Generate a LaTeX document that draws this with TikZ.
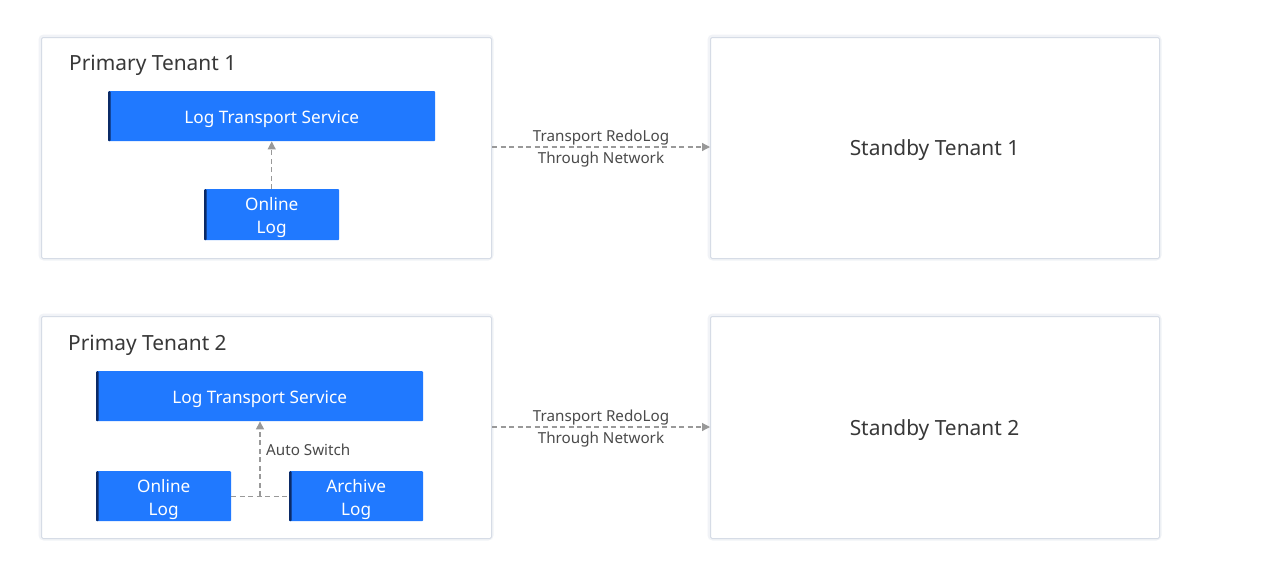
\documentclass[tikz,border=0pt]{standalone}
\usepackage{fontspec}
\setmainfont{Noto Sans}
\usetikzlibrary{arrows.meta}
\definecolor{bblue}{HTML}{2079FF}
\definecolor{bedge}{HTML}{0B2A66}
\definecolor{tgray}{HTML}{383838}
\definecolor{lgray}{HTML}{4A4A4A}
\definecolor{framec}{HTML}{D6DCE6}
\definecolor{shadowc}{HTML}{F1F3F7}
\definecolor{dgray}{HTML}{999999}
\tikzset{
  tenant/.style={draw=framec, line width=1pt, fill=white, inner sep=0pt, rounded corners=1.5pt},
  bluebox/.style={fill=bblue, draw=none, text=white, inner sep=0pt, align=center,
    font=\fontsize{17.2}{23}\selectfont, text height=19pt, rounded corners=1pt,
    path picture={\fill[bedge] (path picture bounding box.south west) rectangle ([xshift=2.5pt]path picture bounding box.north west);}},
  twoline/.style={bluebox, text height=42pt},
  title/.style={text=tgray, font=\fontsize{20.9}{24}\selectfont, inner sep=0pt},
  lbl/.style={text=lgray, font=\fontsize{15.2}{22}\selectfont, inner sep=0pt, align=center},
  dashline/.style={draw=dgray, line width=1.2pt, dash pattern=on 5pt off 3.5pt},
  dasharrow/.style={dashline, -{Triangle[length=8pt,width=8pt]}},
}
\begin{document}
\begin{tikzpicture}[x=1pt,y=-1pt]
\useasboundingbox[fill=white] (0,0) rectangle (1280,581);
% soft shadows
\foreach \x/\y/\w/\h in {41/37/450/221,710/37/449/221,41/316/450/222,710/316/449/222}{
  \draw[draw=shadowc, line width=5pt, rounded corners=3pt] (\x,\y) rectangle ++(\w,\h);
}
% tenant frames
\node[tenant, minimum width=450pt, minimum height=221pt, anchor=north west] (p1) at (41,37) {};
\node[tenant, minimum width=449pt, minimum height=221pt, anchor=north west] (s1) at (710,37) {};
\node[tenant, minimum width=450pt, minimum height=222pt, anchor=north west] (p2) at (41,316) {};
\node[tenant, minimum width=449pt, minimum height=222pt, anchor=north west] (s2) at (710,316) {};
% titles
\node[title, anchor=west] (t1) at (69,65) {Primary Tenant 1};
\node[title, anchor=west] (t2) at (68,345) {Primay Tenant 2};
\node[title] (st1) at (934.5,150) {Standby Tenant 1};
\node[title] (st2) at (934.5,430.5) {Standby Tenant 2};
% tenant 1 inner
\node[bluebox, minimum width=327pt, minimum height=50pt, anchor=north west] (lts1) at (108,91) {Log Transport Service};
\node[twoline, minimum width=135pt, minimum height=51pt, anchor=north west] (ol1) at (204,189) {Online\\Log};
\draw[dasharrow] (ol1.north) -- (lts1.south -| ol1.north);
% tenant 2 inner
\node[bluebox, minimum width=327pt, minimum height=50pt, anchor=north west] (lts2) at (96,371) {Log Transport Service};
\node[twoline, minimum width=135pt, minimum height=50pt, anchor=north west] (ol2) at (96,471) {Online\\Log};
\node[twoline, minimum width=134pt, minimum height=50pt, anchor=north west] (al2) at (289,471) {Archive\\Log};
\coordinate (j2) at (260,496);
\draw[dashline] (ol2.east) -- (al2.west);
\draw[dasharrow] (j2) -- (lts2.south -| j2);
\node[lbl, anchor=west] (as) at (266,449.5) {Auto Switch};
% transport arrows
\draw[dasharrow] (p1.east |- 0,147) -- (s1.west |- 0,147);
\node[lbl] (tr1a) at (601,137.5) {Transport RedoLog};
\node[lbl] (tr1b) at (601,159.5) {Through Network};
\draw[dasharrow] (p2.east |- 0,427) -- (s2.west |- 0,427);
\node[lbl] (tr2a) at (601,417.5) {Transport RedoLog};
\node[lbl] (tr2b) at (601,439.5) {Through Network};
\end{tikzpicture}
\end{document}
